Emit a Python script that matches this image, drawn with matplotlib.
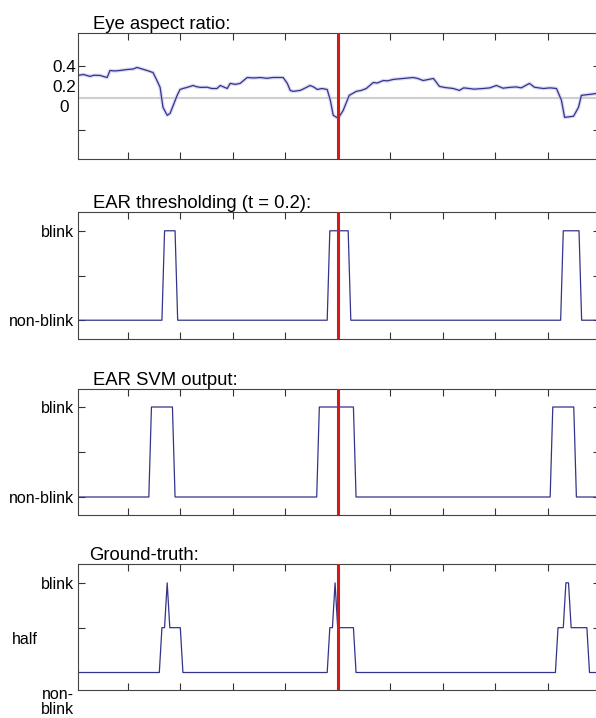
import numpy as np
import matplotlib
matplotlib.use('Agg')
from matplotlib import pyplot as plt

plt.rcParams['font.family'] = ['Liberation Sans', 'DejaVu Sans']

# 帧号与 EAR 曲线（从图上读出的点）
ear_frames = [1, 3, 5.6, 7, 9.4, 11, 12.1, 13.2, 15, 17, 19.7, 22, 23.5, 24.7, 27.3, 29.6,
              31.1, 32.3, 33.4, 35, 36.1, 37.3, 38.8, 39.9, 41, 42.6, 44.9, 46, 47.6, 50.2,
              52, 54, 55.2, 57.9, 59, 61, 62.8, 65.5, 68, 70.5, 73, 75.4, 77, 79.2, 80.8,
              81.9, 83, 85.7, 87, 89.5, 91, 92.2, 94, 96, 97.2, 98.3, 100.2, 102.1, 104.4,
              107.1, 109, 110.9, 113.6, 115, 117.4, 119, 121.2, 125, 128.8, 130.5, 132.6,
              136.5, 138.8, 141, 144.1, 146.4, 148, 150.2, 152, 155.5, 158, 160.5, 163,
              165.5, 168, 170, 173.1, 175, 178.4, 181, 183.4, 185.3, 186.5, 189.9, 191.8,
              192.9, 196, 198.7, 200]
ear_values = [0.344, 0.35, 0.338, 0.345, 0.344, 0.336, 0.331, 0.375, 0.372, 0.375, 0.381,
              0.384, 0.394, 0.388, 0.375, 0.362, 0.312, 0.269, 0.144, 0.094, 0.106, 0.156,
              0.219, 0.256, 0.262, 0.269, 0.281, 0.274, 0.269, 0.27, 0.262, 0.262, 0.281,
              0.262, 0.294, 0.288, 0.294, 0.331, 0.328, 0.331, 0.326, 0.331, 0.331, 0.331,
              0.294, 0.25, 0.244, 0.25, 0.26, 0.281, 0.27, 0.256, 0.262, 0.256, 0.188,
              0.094, 0.075, 0.125, 0.219, 0.244, 0.25, 0.262, 0.3, 0.296, 0.312, 0.31,
              0.319, 0.325, 0.331, 0.325, 0.312, 0.325, 0.275, 0.268, 0.262, 0.25, 0.266,
              0.262, 0.258, 0.262, 0.266, 0.281, 0.264, 0.269, 0.272, 0.266, 0.294, 0.27,
              0.262, 0.266, 0.262, 0.188, 0.081, 0.088, 0.144, 0.219, 0.225, 0.231, 0.231]
ear_threshold = 0.2

# 阈值法输出
thr_frames = [1, 33, 34, 38, 39, 96, 97, 104, 105, 185, 186, 192, 193, 200]
thr_values = [0, 0, 1, 1, 0, 0, 1, 1, 0, 0, 1, 1, 0, 0]

# SVM 输出
svm_frames = [1, 28, 29, 37, 38, 92, 93, 106, 107, 181, 182, 190, 191, 200]
svm_values = [0, 0, 1, 1, 0, 0, 1, 1, 0, 0, 1, 1, 0, 0]

# 真值
gt_frames = [1, 32, 33, 34, 35, 36, 40, 41, 96, 97, 98, 99, 100, 106, 107,
             183, 184, 186, 187, 188, 189, 195, 196, 200]
gt_values = [0, 0, 0.5, 0.5, 1, 0.5, 0.5, 0, 0, 0.5, 0.5, 1, 0.5, 0.5, 0,
             0, 0.5, 0.5, 1, 1, 0.5, 0.5, 0, 0]

current_frame = 100
x_ticks = [20, 40, 60, 80, 100, 120, 140, 160, 180]

line_c = '#34348a'
red_c = '#d81818'
W, H = 596, 718

fig = plt.figure(figsize=(W / 100, H / 100), dpi=100)


def make_ax(top_px, bottom_px):
    ax = fig.add_axes([78 / W, 1 - bottom_px / H, 522 / W, (bottom_px - top_px) / H])
    ax.set_xlim(1, 200)
    ax.set_xticks(x_ticks)
    ax.set_xticklabels([])
    ax.tick_params(direction='in', length=5, top=True, right=True, width=0.8,
                   color='#333333', labelsize=11.5, pad=3)
    for s in ax.spines.values():
        s.set_color('#444444')
        s.set_linewidth(0.8)
    return ax


def add_title(ax, text, x0=0.028):
    ax.text(x0, 1.035, text, transform=ax.transAxes, fontsize=13.3,
            ha='left', va='baseline')


# 1. EAR
ax1 = make_ax(33, 159)
ax1.set_ylim(-0.18, 0.61)
ax1.axhline(ear_threshold, color='#cfcfcf', lw=1.5, zorder=1)
ax1.plot(ear_frames, ear_values, color='#c0c0ee', lw=2.6, alpha=0.6, zorder=2)
ax1.plot(ear_frames, ear_values, color=line_c, lw=0.9, zorder=3)
ax1.set_yticks([0, 0.4])
ax1.set_yticklabels([])
for lab, yv in zip(['0.4', '0.2', '0'], [0.395, 0.267, 0.14]):
    ax1.text(-0.027, yv, lab, transform=ax1.get_yaxis_transform(), fontsize=12.3,
             ha='center', va='center')
ax1.axvline(current_frame, color=red_c, lw=2.2, zorder=4)
add_title(ax1, 'Eye aspect ratio:')

# 2. 阈值
ax2 = make_ax(212, 339)
ax2.set_ylim(-0.21, 1.21)
ax2.plot(thr_frames, thr_values, color=line_c, lw=0.9)
ax2.set_yticks([0, 0.5, 1])
ax2.set_yticklabels(['non-blink', '', 'blink'])
ax2.axvline(current_frame, color=red_c, lw=2.2, zorder=4)
add_title(ax2, 'EAR thresholding (t = 0.2):')

# 3. SVM
ax3 = make_ax(389, 515)
ax3.set_ylim(-0.2, 1.2)
ax3.plot(svm_frames, svm_values, color=line_c, lw=0.9)
ax3.set_yticks([0, 0.5, 1])
ax3.set_yticklabels(['non-blink', '', 'blink'])
ax3.axvline(current_frame, color=red_c, lw=2.2, zorder=4)
add_title(ax3, 'EAR SVM output:')

# 4. 真值
ax4 = make_ax(564, 690)
ax4.set_ylim(-0.195, 1.21)
ax4.plot(gt_frames, gt_values, color=line_c, lw=0.9)
ax4.set_yticks([0.5, 1])
ax4.set_yticklabels(['', 'blink'])
ax4.text(-0.126, 0.372, 'half', transform=ax4.get_yaxis_transform(), fontsize=11.5,
         ha='left', va='center')
ax4.text(-0.039, -0.325, 'non-\nblink', transform=ax4.get_yaxis_transform(),
         fontsize=11.5, ha='center', va='center', multialignment='center',
         linespacing=1.0)
ax4.axvline(current_frame, color=red_c, lw=2.2, zorder=4)
add_title(ax4, 'Ground-truth:', x0=0.021)

fig.savefig('out.png', dpi=100)
